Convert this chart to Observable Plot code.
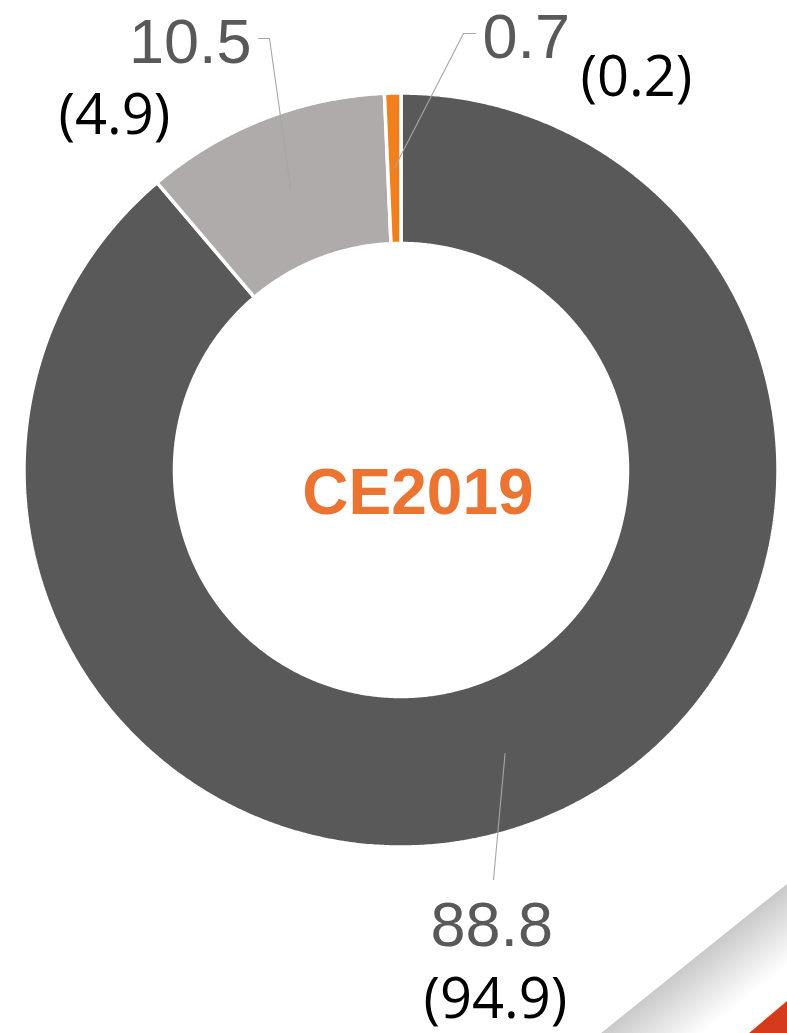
<!DOCTYPE html>
<html><head><meta charset="utf-8">
<script src="https://cdn.jsdelivr.net/npm/d3@7"></script>
<script src="https://cdn.jsdelivr.net/npm/@observablehq/plot@0.6"></script>
<style>html,body{margin:0;padding:0;background:#fff;overflow:hidden}</style>
</head><body><div id="chart"></div>
<script>
// ---- data ----
const segments = ["Segment A", "Segment B", "Segment C"];
const shares = [88.8, 10.5, 0.7];
const priorShares = [94.9, 4.9, 0.2];
const segmentColors = ["#595959", "#AEABAA", "#F07F1C"];
const centerLabel = "CE2019";

// ---- layout ----
const W = 787, H = 1033, CX = 400.5, CY = 469.5, R_OUT = 377, R_IN = 226.5, R_MID = 302;
const valueLabelPos = [{x: 430, y: 945, a: "start"}, {x: 251, y: 62, a: "end"}, {x: 482, y: 57, a: "start"}];
const priorLabelPos = [{x: 423, y: 1017}, {x: 58, y: 133}, {x: 580, y: 95}];
const leaderElbows = [[[493, 879]], [[269, 38], [258, 38]], [[463, 33], [475, 33]]];

const arcs = d3.pie().sort(null).value(d => d)(shares);
const pt = (r, a) => [CX + r * Math.sin(a), CY - r * Math.cos(a)];

const ringPts = [];
arcs.forEach((p, i) => {
  const n = Math.max(6, Math.ceil((p.endAngle - p.startAngle) * 150));
  const pts = [];
  for (let k = 0; k <= n; k++) pts.push(pt(R_OUT, p.startAngle + (p.endAngle - p.startAngle) * k / n));
  for (let k = n; k >= 0; k--) pts.push(pt(R_IN, p.startAngle + (p.endAngle - p.startAngle) * k / n));
  pts.push(pts[0]);
  pts.forEach(([x, y]) => ringPts.push({seg: segments[i], x, y}));
});

const leaderPts = [];
arcs.forEach((p, i) => {
  const mid = (p.startAngle + p.endAngle) / 2;
  const [sx, sy] = pt(R_MID, mid);
  leaderPts.push({seg: segments[i], x: sx, y: sy});
  leaderElbows[i].forEach(([x, y]) => leaderPts.push({seg: segments[i], x, y}));
});

const valueLabels = shares.map((v, i) => ({text: v.toFixed(1), ...valueLabelPos[i]}));
const priorLabels = priorShares.map((v, i) => ({text: `(${v.toFixed(1)})`, ...priorLabelPos[i]}));

// decorative corner
const cornerBand = [{x: 600, y: 1033}, {x: 787, y: 883}, {x: 787, y: 1033}, {x: 600, y: 1033}];
const cornerRed = [{x: 748, y: 1033}, {x: 787, y: 1000}, {x: 787, y: 1033}, {x: 748, y: 1033}];

const valueFont = {lineAnchor: "bottom", fill: "#595959", fontSize: 63, fontFamily: "Liberation Sans, Arial, sans-serif"};

const chart = Plot.plot({
  width: W, height: H, margin: 0,
  style: {background: "#fff", overflow: "visible"},
  x: {domain: [0, W], range: [0, W], axis: null},
  y: {domain: [0, H], range: [0, H], axis: null},
  color: {domain: segments, range: segmentColors},
  marks: [
    Plot.line(cornerBand, {x: "x", y: "y", fill: "url(#bandGrad)", stroke: "none"}),
    Plot.line(cornerRed, {x: "x", y: "y", fill: "#D63A1D", stroke: "none"}),
    Plot.line(ringPts, {x: "x", y: "y", z: "seg", fill: "seg", stroke: "#fff", strokeWidth: 3.5, strokeLinejoin: "miter", curve: "linear"}),
    Plot.line(leaderPts, {x: "x", y: "y", z: "seg", stroke: "#A6A6A6", strokeWidth: 1.1, curve: "linear"}),
    Plot.text(valueLabels.filter(d => d.a === "start"), {x: "x", y: "y", text: "text", textAnchor: "start", ...valueFont}),
    Plot.text(valueLabels.filter(d => d.a === "end"), {x: "x", y: "y", text: "text", textAnchor: "end", ...valueFont}),
    Plot.text(priorLabels, {x: "x", y: "y", text: "text", textAnchor: "start", lineAnchor: "bottom", fill: "#000", fontSize: 56, fontFamily: "Open Sans, sans-serif"}),
    Plot.text([{text: centerLabel, x: CX + 17, y: 513}], {x: "x", y: "y", text: "text", textAnchor: "middle", lineAnchor: "bottom", fill: "#EB7433", fontSize: 64, fontWeight: "bold", fontFamily: "Liberation Sans, Arial, sans-serif"})
  ]
});

// gradient definition for the decorative band
const ns = "http://www.w3.org/2000/svg";
const defs = document.createElementNS(ns, "defs");
defs.innerHTML = `<linearGradient id="bandGrad" gradientUnits="userSpaceOnUse" x1="693" y1="958" x2="733" y2="1008">
<stop offset="0" stop-color="#c9c9c9"/><stop offset="1" stop-color="#ffffff"/></linearGradient>`;
chart.insertBefore(defs, chart.firstChild);
document.getElementById("chart").appendChild(chart);
</script>
</body></html>
